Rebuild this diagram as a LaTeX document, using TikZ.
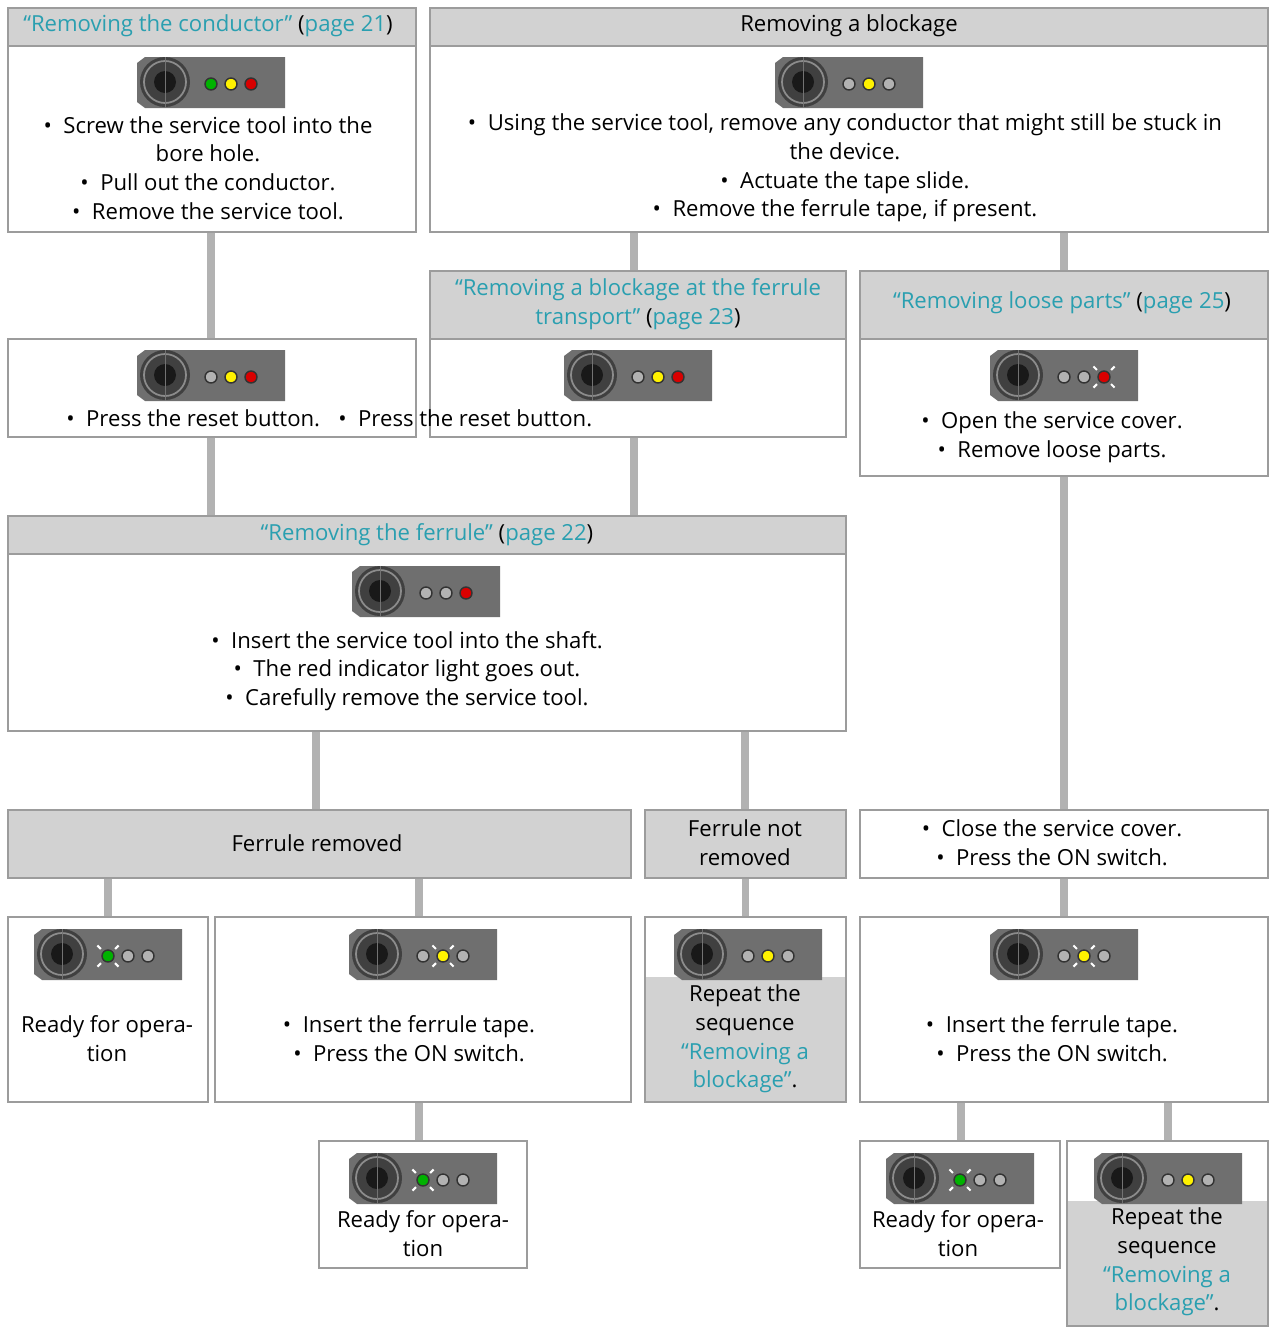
\documentclass[tikz,border=0pt]{standalone}
\usepackage{fontspec}
\setmainfont{Open Sans}
\usetikzlibrary{fit}
\definecolor{teal}{HTML}{2A9FB0}
\definecolor{hdgray}{HTML}{D2D2D2}
\definecolor{edge}{HTML}{9C9C9C}
\definecolor{body}{HTML}{6F6F6F}
\tikzset{
  panel/.style={draw=edge, line width=1.2pt, inner sep=0pt},
  head/.style={draw=edge, line width=1.2pt, fill=hdgray, inner sep=0pt},
  link/.style={draw=hdgray!85!black, line width=4.5pt},
  txt/.style={align=center, font=\fontsize{12.6}{16.4}\selectfont, inner sep=0pt},
}
\newcommand{\tl}[1]{\textcolor{teal}{#1}}
% icon: top-left x,y ; three led colours ; blinking led (0 = none)
\newcommand{\devicon}[6]{%
  \begin{scope}[shift={(#1,#2)}]
    \fill[body] (8,0) -- (148,0) -- (148,51) -- (8,51) -- (0,45) -- (0,6) -- cycle;
    \fill[black!75] (28,25) circle (25);
    \draw[black!45, line width=1pt] (28,25) circle (21);
    \fill[black!90] (28,25) circle (11);
    \draw[black!55, line width=0.5pt] (28,0) -- (28,51);
    \foreach \c [count=\i] in {#3,#4,#5} {
      \fill[\c] (54+20*\i,27) circle (6);
      \draw[black!80, line width=0.8pt] (54+20*\i,27) circle (6);
    }
    \ifnum#6>0
      \foreach \a in {45,135,225,315}
        \draw[white, line width=1.2pt] (54+20*#6,27) ++(\a:10) -- ++(\a:5);
    \fi
  \end{scope}}
\def\off{black!30}
\begin{document}
\begin{tikzpicture}[x=0.02cm, y=-0.02cm]
\useasboundingbox (0,0) rectangle (1273,1329);
%top row
\node[panel, fit={(8,8)(416,232)}] (A) {};
\node[head, fit={(8,8)(416,46)}] (Ah) {};
\node[txt] at (208,26) {\tl{“Removing the conductor”} (\tl{page 21})};
\devicon{137}{57}{green!70!black}{yellow}{red!85!black}{0}
\node[txt] at (208,168) {\textbullet\ \ Screw the service tool into the\\bore hole.\\\textbullet\ \ Pull out the conductor.\\\textbullet\ \ Remove the service tool.};
\node[panel, fit={(430,8)(1268,232)}] (B) {};
\node[head, fit={(430,8)(1268,46)}] (Bh) {};
\node[txt] at (849,26) {Removing a blockage};
\devicon{775}{57}{\off}{yellow}{\off}{0}
\node[txt] at (845,168) {\textbullet\ \ Using the service tool, remove any conductor that might still be stuck in\\the device.\\\textbullet\ \ Actuate the tape slide.\\\textbullet\ \ Remove the ferrule tape, if present.};
%second row
\node[panel, fit={(8,339)(416,437)}] (C) {};
\devicon{137}{350}{\off}{yellow}{red!85!black}{0}
\node[panel, fit={(430,271)(846,437)}] (D) {};
\node[head, fit={(430,271)(846,339)}] (Dh) {};
\node[txt] at (638,304) {\tl{“Removing a blockage at the ferrule}\\\tl{transport”} (\tl{page 23})};
\devicon{564}{350}{\off}{yellow}{red!85!black}{0}
\node[txt, anchor=west] at (66,418) {\textbullet\ \ Press the reset button.};
\node[txt, anchor=west] at (338,418) {\textbullet\ \ Press the reset button.};
\node[panel, fit={(860,271)(1268,476)}] (E) {};
\node[head, fit={(860,271)(1268,339)}] (Eh) {};
\node[txt] at (1062,303) {\tl{“Removing loose parts”} (\tl{page 25})};
\devicon{990}{350}{\off}{\off}{red!85!black}{3}
\node[txt] at (1052,437) {\textbullet\ \ Open the service cover.\\\textbullet\ \ Remove loose parts.};
%ferrule
\node[panel, fit={(8,516)(846,731)}] (F) {};
\node[head, fit={(8,516)(846,554)}] (Fh) {};
\node[txt] at (427,535) {\tl{“Removing the ferrule”} (\tl{page 22})};
\devicon{352}{566}{\off}{\off}{red!85!black}{0}
\node[txt] at (407,671) {\textbullet\ \ Insert the service tool into the shaft.\\\textbullet\ \ The red indicator light goes out.\\\textbullet\ \ Carefully remove the service tool.};
%outcome row
\node[head, fit={(8,810)(631,878)}] (G) {};
\node[txt] at (317,843) {Ferrule removed};
\node[head, fit={(645,810)(846,878)}] (H) {};
\node[txt] at (745,843) {Ferrule not\\removed};
\node[panel, fit={(860,810)(1268,878)}] (I) {};
\node[txt] at (1052,843) {\textbullet\ \ Close the service cover.\\\textbullet\ \ Press the ON switch.};
%lower row
\node[panel, fit={(8,917)(208,1102)}] (J) {};
\devicon{34}{929}{green!70!black}{\off}{\off}{1}
\node[txt] at (107,1039) {Ready for opera-\\tion};
\node[panel, fit={(215,917)(631,1102)}] (K) {};
\devicon{349}{929}{\off}{yellow}{\off}{2}
\node[txt] at (409,1039) {\textbullet\ \ Insert the ferrule tape.\\\textbullet\ \ Press the ON switch.};
\node[panel, fit={(645,917)(846,1102)}] (L) {};
\fill[hdgray] (646,977) rectangle (845,1101);
\devicon{674}{929}{\off}{yellow}{\off}{0}
\node[txt] at (745,1039) {Repeat the\\sequence\\\tl{“Removing a}\\\tl{blockage”}.};
\node[panel, fit={(860,917)(1268,1102)}] (M) {};
\devicon{990}{929}{\off}{yellow}{\off}{2}
\node[txt] at (1052,1039) {\textbullet\ \ Insert the ferrule tape.\\\textbullet\ \ Press the ON switch.};
%bottom row
\node[panel, fit={(319,1141)(527,1268)}] (N) {};
\devicon{349}{1153}{green!70!black}{\off}{\off}{1}
\node[txt] at (423,1234) {Ready for opera-\\tion};
\node[panel, fit={(860,1141)(1060,1268)}] (O) {};
\devicon{886}{1153}{green!70!black}{\off}{\off}{1}
\node[txt] at (958,1234) {Ready for opera-\\tion};
\node[panel, fit={(1067,1141)(1268,1326)}] (P) {};
\fill[hdgray] (1068,1201) rectangle (1267,1325);
\devicon{1094}{1153}{\off}{yellow}{\off}{0}
\node[txt] at (1167,1262) {Repeat the\\sequence\\\tl{“Removing a}\\\tl{blockage”}.};
%connectors
\draw[link] (A.south -| 211,0) -- (C.north -| 211,0);
\draw[link] (C.south -| 211,0) -- (F.north -| 211,0);
\draw[link] (B.south -| 634,0) -- (D.north -| 634,0);
\draw[link] (D.south -| 634,0) -- (F.north -| 634,0);
\draw[link] (B.south -| 1064,0) -- (E.north -| 1064,0);
\draw[link] (E.south -| 1064,0) -- (I.north -| 1064,0);
\draw[link] (F.south -| 316,0) -- (G.north -| 316,0);
\draw[link] (F.south -| 745,0) -- (H.north -| 745,0);
\draw[link] (G.south -| 108,0) -- (J.north -| 108,0);
\draw[link] (G.south -| 419,0) -- (K.north -| 419,0);
\draw[link] (H.south) -- (L.north);
\draw[link] (I.south -| 1064,0) -- (M.north -| 1064,0);
\draw[link] (K.south -| 419,0) -- (N.north -| 419,0);
\draw[link] (M.south -| 961,0) -- (O.north -| 961,0);
\draw[link] (M.south -| 1168,0) -- (P.north -| 1168,0);
\end{tikzpicture}
\end{document}
